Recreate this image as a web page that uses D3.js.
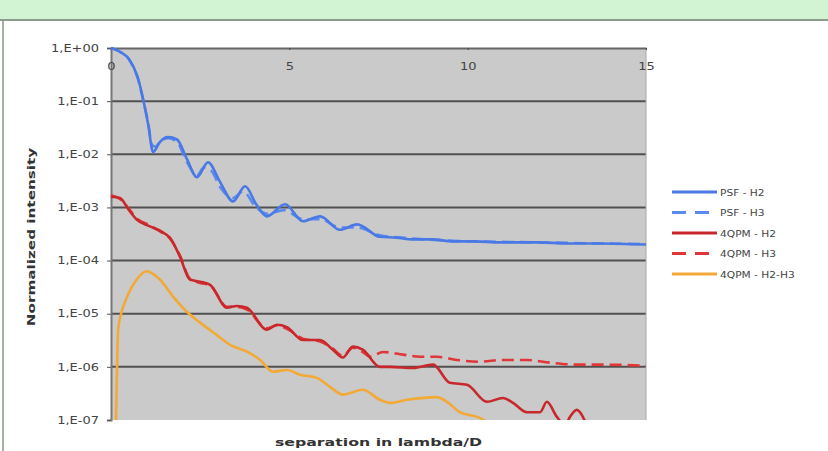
<!DOCTYPE html>
<html>
<head>
<meta charset="utf-8">
<script src="https://cdn.jsdelivr.net/npm/d3@7"></script>
<style>
  body { margin: 0; background: #fff; }
  text { font-family: "DejaVu Sans", Verdana, sans-serif; }
</style>
</head>
<body>
<div id="chart"></div>
<script>
// series: [separation (lambda/D), normalized intensity]
const psf_h2 = [
    [0, 1], [0.25, 0.85], [0.5, 0.62], [0.75, 0.28], [0.9, 0.11], [1.04, 0.037], [1.18, 0.011],
    [1.37, 0.017], [1.6, 0.021], [1.85, 0.019], [2.13, 8.1e-3], [2.41, 3.7e-3], [2.72, 7.1e-3],
    [3.06, 3.0e-3], [3.42, 1.3e-3], [3.76, 2.5e-3], [4.07, 1.15e-3], [4.37, 6.8e-4], [4.88, 1.15e-3],
    [5.38, 5.5e-4], [5.86, 6.8e-4], [6.42, 3.8e-4], [6.9, 4.8e-4], [7.54, 2.8e-4], [8.0, 2.7e-4],
    [8.47, 2.5e-4], [9.0, 2.5e-4], [9.59, 2.3e-4], [10.2, 2.3e-4], [10.9, 2.2e-4], [11.94, 2.2e-4],
    [12.8, 2.1e-4], [13.71, 2.1e-4], [15, 2.0e-4]
];
const psf_h3 = [
    [0, 1], [0.25, 0.85], [0.5, 0.62], [0.75, 0.27], [0.9, 0.105], [1.04, 0.04], [1.15, 0.015],
    [1.25, 0.014], [1.4, 0.018], [1.6, 0.02], [1.85, 0.017], [2.13, 7.1e-3], [2.41, 4.0e-3],
    [2.6, 5.6e-3], [2.8, 5.0e-3], [3.06, 2.4e-3], [3.42, 1.5e-3], [3.7, 2.0e-3], [4.07, 1.0e-3],
    [4.37, 7.6e-4], [4.85, 8.9e-4], [5.38, 6.0e-4], [5.86, 6.0e-4], [6.42, 4.2e-4], [6.9, 4.2e-4],
    [7.54, 3.0e-4], [8.47, 2.6e-4], [9.59, 2.35e-4], [10.9, 2.25e-4], [12, 2.2e-4], [13.7, 2.1e-4],
    [15, 2.05e-4]
];
const qpm_h2 = [
    [0, 1.6e-3], [0.25, 1.5e-3], [0.5, 9e-4], [0.72, 5.9e-4], [1.09, 4.4e-4], [1.42, 3.5e-4],
    [1.65, 2.7e-4], [1.93, 1.2e-4], [2.21, 4.4e-5], [2.5, 4.0e-5], [2.78, 3.5e-5], [3.25, 1.3e-5],
    [3.53, 1.4e-5], [3.81, 1.3e-5], [4.37, 5.0e-6], [4.65, 6.2e-6], [4.93, 5.6e-6], [5.38, 3.2e-6],
    [5.86, 3.2e-6], [6.22, 2.1e-6], [6.5, 1.5e-6], [6.78, 2.4e-6], [7.06, 2.1e-6], [7.54, 1.0e-6],
    [7.82, 1.0e-6], [8.47, 9.5e-7], [9.03, 1.1e-6], [9.5, 5.0e-7], [9.98, 4.6e-7], [10.54, 2.2e-7],
    [10.99, 2.6e-7], [11.27, 2.1e-7], [11.66, 1.4e-7], [12.03, 1.4e-7], [12.22, 2.2e-7],
    [12.5, 1.15e-7], [12.73, 8e-8], [12.87, 1.15e-7], [13.06, 1.55e-7], [13.23, 1.15e-7], [13.4, 6e-8]
];
const qpm_h3 = [
    [0, 1.7e-3], [0.25, 1.45e-3], [0.5, 9.5e-4], [0.72, 6.2e-4], [1.09, 4.6e-4], [1.42, 3.4e-4],
    [1.65, 2.6e-4], [1.93, 1.25e-4], [2.21, 4.6e-5], [2.5, 3.8e-5], [2.78, 3.4e-5], [3.25, 1.35e-5],
    [3.53, 1.35e-5], [3.81, 1.2e-5], [4.37, 5.3e-6], [4.65, 6.0e-6], [4.93, 5.2e-6], [5.38, 3.4e-6],
    [5.86, 3.0e-6], [6.22, 2.2e-6], [6.5, 1.6e-6], [6.78, 2.3e-6], [7.06, 1.9e-6], [7.26, 1.55e-6],
    [7.63, 1.9e-6], [8.19, 1.7e-6], [8.66, 1.55e-6], [9.14, 1.55e-6], [9.7, 1.35e-6], [10.34, 1.25e-6],
    [10.99, 1.35e-6], [11.66, 1.35e-6], [12.31, 1.2e-6], [13.06, 1.1e-6], [13.79, 1.1e-6], [15, 1.05e-6]
];
const qpm_h2_h3 = [
    [0.14, 1e-7], [0.17, 1e-6], [0.2, 5e-6], [0.3, 1.1e-5], [0.44, 2.0e-5], [0.72, 4.4e-5], [1.0, 6.3e-5],
    [1.2, 5.5e-5], [1.37, 4.4e-5], [1.74, 2.1e-5], [2.12, 1.1e-5], [2.5, 6.8e-6], [2.96, 4.0e-6],
    [3.34, 2.6e-6], [3.8, 1.95e-6], [4.18, 1.35e-6], [4.54, 8.1e-7], [4.93, 8.7e-7], [5.3, 7.1e-7],
    [5.77, 6.2e-7], [6.14, 4.2e-7], [6.5, 3.0e-7], [7.06, 3.7e-7], [7.54, 2.4e-7], [7.82, 2.1e-7],
    [8.3, 2.4e-7], [9.14, 2.7e-7], [9.42, 2.2e-7], [9.78, 1.4e-7], [10.34, 1.1e-7], [10.6, 8.7e-8]
];

const series_names = ["PSF - H2", "PSF - H3", "4QPM - H2", "4QPM - H3", "4QPM - H2-H3"];
const series_data = [psf_h2, psf_h3, qpm_h2, qpm_h3, qpm_h2_h3];
const series_colors = ["#4a78e4", "#5b8bf0", "#c8282c", "#e0383a", "#f2a936"];
const series_dash = [null, "12,6", null, "12,6", null];

const x_ticks = [0, 5, 10, 15];
const y_ticks = [1, 1e-1, 1e-2, 1e-3, 1e-4, 1e-5, 1e-6, 1e-7];
const y_tick_labels = ["1,E+00", "1,E-01", "1,E-02", "1,E-03", "1,E-04", "1,E-05", "1,E-06", "1,E-07"];

const W = 828, H = 451;
const margin = { top: 48, right: 182, bottom: 31, left: 111 };
const width = W - margin.left - margin.right;
const height = H - margin.top - margin.bottom;
const SX = 1.3; // text looks horizontally stretched in the picture

const root = d3.select("#chart").append("svg")
    .attr("width", W)
    .attr("height", H);

// page frame
root.append("rect").attr("x", 0).attr("y", 0).attr("width", W).attr("height", 19).attr("fill", "#d3f4d3");
root.append("rect").attr("x", 0).attr("y", 19).attr("width", W).attr("height", 2).attr("fill", "#8c9c8c");
root.append("rect").attr("x", 2).attr("y", 21).attr("width", 2).attr("height", H - 21).attr("fill", "#a3b3a3");

const svg = root.append("g")
    .attr("transform", `translate(${margin.left}, ${margin.top})`);

const x = d3.scaleLinear().domain([0, 15]).range([0, width]);
const y = d3.scaleLog().domain([1e-7, 1]).range([height, 0]);

svg.append("rect")
    .attr("width", width)
    .attr("height", height)
    .attr("fill", "#cacaca");

// grid lines
svg.append("g")
    .selectAll("line")
    .data(y_ticks.slice(1, -1))
    .enter()
    .append("line")
    .attr("x1", 0).attr("x2", width)
    .attr("y1", d => y(d)).attr("y2", d => y(d))
    .attr("stroke", "#505050")
    .attr("stroke-width", 2);

svg.append("line")
    .attr("x1", width).attr("x2", width)
    .attr("y1", 0).attr("y2", height)
    .attr("stroke", "#a8a8a8");

// y axis
const yAxis = svg.append("g")
    .call(d3.axisLeft(y).tickValues(y_ticks).tickSize(4).tickFormat((d, i) => y_tick_labels[i]));
yAxis.select(".domain").attr("stroke", "#777").attr("stroke-width", 2);
yAxis.selectAll(".tick line").attr("stroke", "#555");
yAxis.selectAll(".tick text")
    .attr("fill", "#444")
    .attr("font-size", 10)
    .attr("x", 0)
    .attr("transform", `translate(-12,0) scale(${SX},1)`);

// x axis on top, crossing at 1E+00
const xAxis = svg.append("g")
    .call(d3.axisBottom(x).tickValues(x_ticks).tickSize(2).tickSizeOuter(0));
xAxis.select(".domain").attr("stroke", "#666").attr("stroke-width", 2);
xAxis.selectAll(".tick line").attr("stroke", "#444");
xAxis.selectAll(".tick text")
    .attr("fill", "#444")
    .attr("font-size", 10)
    .attr("y", 0).attr("dy", 0)
    .attr("transform", `translate(0,22) scale(${SX},1)`);

// lines
svg.append("clipPath").attr("id", "plotclip")
    .append("rect").attr("x", -2).attr("y", -2).attr("width", width + 4).attr("height", height + 2);

const line = d3.line()
    .x(d => x(d[0]))
    .y(d => y(d[1]))
    .curve(d3.curveMonotoneX);

const order = [4, 3, 2, 1, 0];
svg.append("g")
    .attr("clip-path", "url(#plotclip)")
    .selectAll("path")
    .data(order)
    .enter()
    .append("path")
    .attr("d", i => line(series_data[i]))
    .attr("fill", "none")
    .attr("stroke", i => series_colors[i])
    .attr("stroke-width", 2.6)
    .attr("stroke-dasharray", i => series_dash[i])
    .attr("stroke-linejoin", "round");

// legend
const legend = root.append("g").attr("transform", "translate(672, 192)");
const rows = legend.selectAll("g")
    .data(series_names)
    .enter()
    .append("g")
    .attr("transform", (d, i) => `translate(0, ${i * 20.5})`);
rows.append("line")
    .attr("x1", 0).attr("x2", 45)
    .attr("stroke", (d, i) => series_colors[i])
    .attr("stroke-width", 3)
    .attr("stroke-dasharray", (d, i) => series_dash[i] ? "14,9" : null);
rows.append("text")
    .attr("transform", "translate(48, 3.5) scale(1.12,1)")
    .attr("font-size", 9.5)
    .attr("fill", "#444")
    .text(d => d);

// axis titles
root.append("text")
    .attr("transform", `translate(${margin.left + width / 2}, 446) scale(1.5,1)`)
    .attr("text-anchor", "middle")
    .attr("font-size", 10.5)
    .attr("font-weight", "bold")
    .attr("fill", "#333")
    .text("separation in lambda/D");

root.append("text")
    .attr("transform", `translate(35, 237) rotate(-90) scale(1.45,1)`)
    .attr("text-anchor", "middle")
    .attr("font-size", 10.5)
    .attr("font-weight", "bold")
    .attr("fill", "#333")
    .text("Normalized intensity");
</script>
</body>
</html>
